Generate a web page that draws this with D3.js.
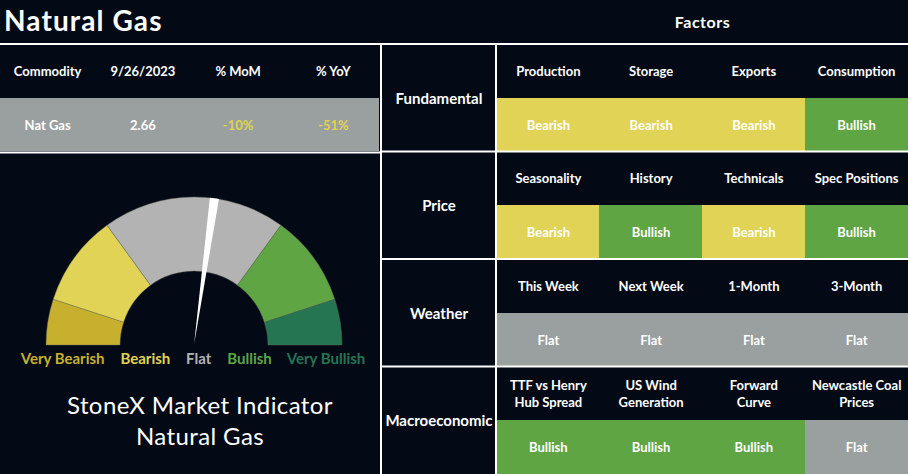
<!DOCTYPE html>
<html>
<head>
<meta charset="utf-8">
<script src="https://cdn.jsdelivr.net/npm/d3@7"></script>
<style>
  html, body { margin: 0; padding: 0; background: #030a16; }
  svg { display: block; font-family: "Lato", "Open Sans", sans-serif; }
</style>
</head>
<body>
<div id="chart"></div>
<script>
// left table
const tableHeaders = ["Commodity", "9/26/2023", "% MoM", "% YoY"];
const tableRow = ["Nat Gas", "2.66", "-10%", "-51%"];
const tableRowColours = ["#ffffff", "#ffffff", "#e0d355", "#e0d355"];

// gauge
const gaugeLabels = ["Very Bearish", "Bearish", "Flat", "Bullish", "Very Bullish"];
const gaugeBreaks = [0, 10, 30, 70, 90, 100];
const gaugeColours = ["#c7b02e", "#e0d355", "#b3b3b3", "#5fa544", "#267552"];
const needleValue = 54.4;
const indicatorTitle = ["StoneX Market Indicator", "Natural Gas"];

// factors
const categories = ["Fundamental", "Price", "Weather", "Macroeconomic"];
const factorNames = [
    ["Production", "Storage", "Exports", "Consumption"],
    ["Seasonality", "History", "Technicals", "Spec Positions"],
    ["This Week", "Next Week", "1-Month", "3-Month"],
    ["TTF vs Henry|Hub Spread", "US Wind|Generation", "Forward|Curve", "Newcastle Coal|Prices"]
];
const factorSignals = [
    ["Bearish", "Bearish", "Bearish", "Bullish"],
    ["Bearish", "Bullish", "Bearish", "Bullish"],
    ["Flat", "Flat", "Flat", "Flat"],
    ["Bullish", "Bullish", "Bullish", "Flat"]
];

const signalColour = { Bearish: "#e0d355", Bullish: "#5fa544", Flat: "#9aa09f" };
const bg = "#030a16";
const width = 908, height = 474;
const topY = 44, split = 381, catEdge = 497;

const svg = d3.select("#chart").append("svg")
    .attr("width", width)
    .attr("height", height);

svg.append("rect").attr("width", width).attr("height", height).attr("fill", bg);

// titles
svg.append("text")
    .attr("x", 4).attr("y", 31)
    .attr("fill", "#fff")
    .attr("font-size", 28).attr("font-weight", 700)
    .attr("letter-spacing", 1.1)
    .text("Natural Gas");

svg.append("text")
    .attr("x", (catEdge + width) / 2).attr("y", 21)
    .attr("text-anchor", "middle").attr("dominant-baseline", "central")
    .attr("fill", "#fff")
    .attr("font-size", 16).attr("font-weight", 700)
    .attr("letter-spacing", 0.5)
    .text("Factors");

// ---- left table
const xLeft = d3.scaleBand().domain(d3.range(tableHeaders.length)).range([0, split]);
const rowH = 54;

svg.append("rect")
    .attr("x", 0).attr("y", topY + rowH)
    .attr("width", split - 2).attr("height", rowH - 1)
    .attr("fill", signalColour.Flat);

svg.append("g").selectAll("text").data(tableHeaders).join("text")
    .attr("x", (d, i) => xLeft(i) + xLeft.bandwidth() / 2)
    .attr("y", topY + rowH / 2)
    .attr("text-anchor", "middle").attr("dominant-baseline", "central")
    .attr("fill", "#fff").attr("font-size", 13).attr("font-weight", 700)
    .text(d => d);

svg.append("g").selectAll("text").data(tableRow).join("text")
    .attr("x", (d, i) => xLeft(i) + xLeft.bandwidth() / 2)
    .attr("y", topY + rowH * 1.5)
    .attr("text-anchor", "middle").attr("dominant-baseline", "central")
    .attr("fill", (d, i) => tableRowColours[i]).attr("font-size", 13).attr("font-weight", 700)
    .text(d => d);

// ---- gauge
const cx = 194, cy = 345, rOuter = 148, rInner = 74;
const angle = d3.scaleLinear().domain([0, 100]).range([-Math.PI / 2, Math.PI / 2]);
const arc = d3.arc().innerRadius(rInner).outerRadius(rOuter);

const gauge = svg.append("g").attr("transform", `translate(${cx},${cy})`);

gauge.selectAll("path.seg").data(gaugeColours).join("path")
    .attr("class", "seg")
    .attr("d", (d, i) => arc({ startAngle: angle(gaugeBreaks[i]), endAngle: angle(gaugeBreaks[i + 1]) }))
    .attr("fill", d => d)
    .attr("stroke", "#6b6b5a").attr("stroke-width", 0.4);

const a = angle(needleValue);
const halfW = 4.6;
const tip = [Math.sin(a) * 1, -Math.cos(a) * 1];
const outL = [Math.sin(a) * rOuter - Math.cos(a) * halfW, -Math.cos(a) * rOuter - Math.sin(a) * halfW];
const outR = [Math.sin(a) * rOuter + Math.cos(a) * halfW, -Math.cos(a) * rOuter + Math.sin(a) * halfW];
gauge.append("path")
    .attr("d", d3.line()([tip, outL, outR]) + "Z")
    .attr("fill", "#fff");

const lbl = svg.append("text")
    .attr("x", cx - 1).attr("y", 358)
    .attr("text-anchor", "middle").attr("dominant-baseline", "central")
    .attr("font-size", 15).attr("font-weight", 700);
lbl.selectAll("tspan").data(gaugeLabels).join("tspan")
    .attr("dx", (d, i) => i ? 16 : 0)
    .attr("fill", (d, i) => gaugeColours[i])
    .text(d => d);

svg.append("g").selectAll("text").data(indicatorTitle).join("text")
    .attr("x", 200).attr("y", (d, i) => 404 + i * 31)
    .attr("text-anchor", "middle").attr("dominant-baseline", "central")
    .attr("fill", "#fff").attr("font-size", 24).attr("font-weight", 400)
    .attr("letter-spacing", 0.4)
    .text(d => d);

// ---- factor grid
const yRow = d3.scaleBand().domain(categories).range([topY, height]);
const xCol = d3.scaleBand().domain(d3.range(4)).range([catEdge, width]);
const half = yRow.bandwidth() / 2;

const rows = svg.append("g").selectAll("g").data(categories).join("g")
    .attr("transform", d => `translate(0,${yRow(d)})`);

rows.selectAll("rect").data((d, i) => factorSignals[i]).join("rect")
    .attr("x", (d, j) => Math.floor(xCol(j)))
    .attr("y", half)
    .attr("width", xCol.bandwidth() + 2)
    .attr("height", half)
    .attr("fill", d => signalColour[d])
    .attr("shape-rendering", "crispEdges");

rows.selectAll("text.sig").data((d, i) => factorSignals[i]).join("text")
    .attr("class", "sig")
    .attr("x", (d, j) => xCol(j) + xCol.bandwidth() / 2)
    .attr("y", half * 1.5)
    .attr("text-anchor", "middle").attr("dominant-baseline", "central")
    .attr("fill", "#fff").attr("font-size", 13).attr("font-weight", 700)
    .text(d => d);

rows.each(function (cat, i) {
    const g = d3.select(this);
    factorNames[i].forEach((name, j) => {
        const lines = name.split("|");
        const t = g.append("text")
            .attr("x", xCol(j) + xCol.bandwidth() / 2)
            .attr("y", half / 2 - (lines.length - 1) * 8.5)
            .attr("text-anchor", "middle").attr("dominant-baseline", "central")
            .attr("fill", "#fff").attr("font-size", 13).attr("font-weight", 700);
        lines.forEach((l, k) => t.append("tspan")
            .attr("x", xCol(j) + xCol.bandwidth() / 2)
            .attr("dy", k ? 17 : 0)
            .text(l));
    });
    g.append("text")
        .attr("x", (split + catEdge) / 2)
        .attr("y", half)
        .attr("text-anchor", "middle").attr("dominant-baseline", "central")
        .attr("fill", "#fff").attr("font-size", 15).attr("font-weight", 700)
        .text(cat);
});

// ---- white rules
const rules = svg.append("g").attr("stroke", "#fff").attr("stroke-width", 2);
rules.append("line").attr("x1", 0).attr("x2", width).attr("y1", topY).attr("y2", topY);
rules.append("line").attr("x1", 0).attr("x2", split).attr("y1", topY + rowH * 2 + 0.5).attr("y2", topY + rowH * 2 + 0.5);
categories.slice(1).forEach(c => {
    rules.append("line").attr("x1", split).attr("x2", width).attr("y1", yRow(c)).attr("y2", yRow(c));
});
rules.append("line").attr("x1", split).attr("x2", split).attr("y1", topY).attr("y2", height);
rules.append("line").attr("x1", catEdge - 1).attr("x2", catEdge - 1).attr("y1", topY).attr("y2", height);
</script>
</body>
</html>
